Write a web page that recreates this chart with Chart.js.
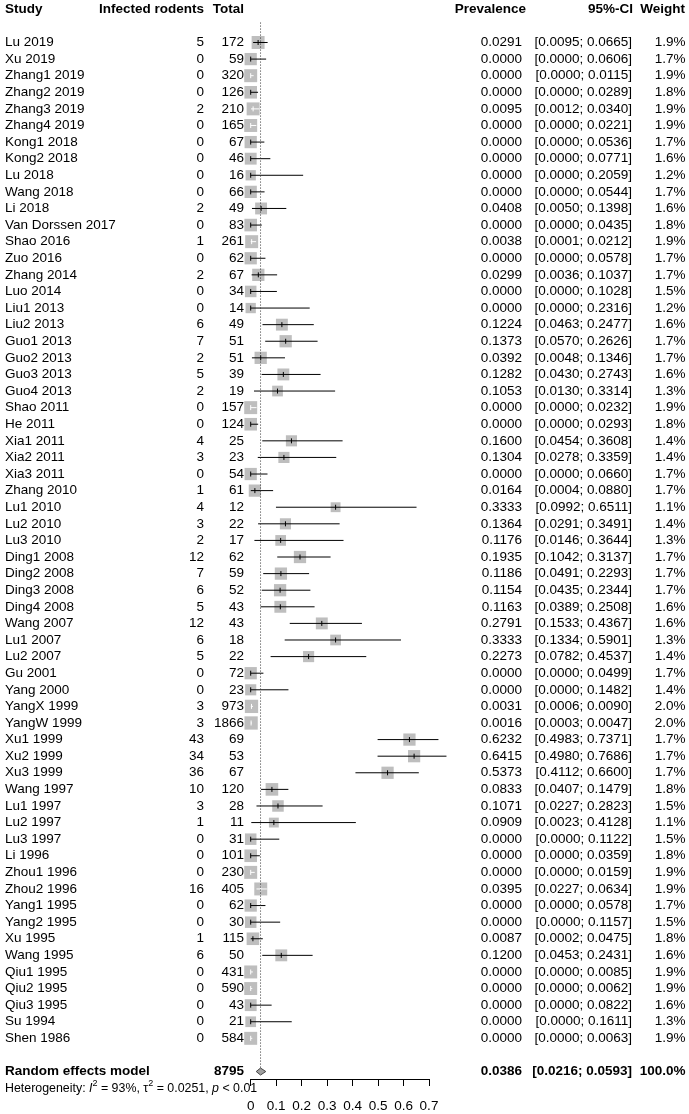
<!DOCTYPE html>
<html>
<head>
<meta charset="utf-8">
<script src="https://cdn.jsdelivr.net/npm/chart.js@4.4.1/dist/chart.umd.min.js"></script>
<style>
  html, body { margin: 0; padding: 0; background: #fff; }
  #wrap { width: 689px; height: 1114px; position: relative; }
</style>
</head>
<body>
<div id="wrap"><canvas id="forest"></canvas></div>
<script>
const studies = [
  "Lu 2019", "Xu 2019", "Zhang1 2019", "Zhang2 2019", "Zhang3 2019", "Zhang4 2019",
  "Kong1 2018", "Kong2 2018", "Lu 2018", "Wang 2018", "Li 2018", "Van Dorssen 2017",
  "Shao 2016", "Zuo 2016", "Zhang 2014", "Luo 2014", "Liu1 2013", "Liu2 2013",
  "Guo1 2013", "Guo2 2013", "Guo3 2013", "Guo4 2013", "Shao 2011", "He 2011",
  "Xia1 2011", "Xia2 2011", "Xia3 2011", "Zhang 2010", "Lu1 2010", "Lu2 2010",
  "Lu3 2010", "Ding1 2008", "Ding2 2008", "Ding3 2008", "Ding4 2008", "Wang 2007",
  "Lu1 2007", "Lu2 2007", "Gu 2001", "Yang 2000", "YangX 1999", "YangW 1999",
  "Xu1 1999", "Xu2 1999", "Xu3 1999", "Wang 1997", "Lu1 1997", "Lu2 1997",
  "Lu3 1997", "Li 1996", "Zhou1 1996", "Zhou2 1996", "Yang1 1995", "Yang2 1995",
  "Xu 1995", "Wang 1995", "Qiu1 1995", "Qiu2 1995", "Qiu3 1995", "Su 1994", "Shen 1986"
];
const infected = [
  5, 0, 0, 0, 2, 0, 0, 0, 0, 0, 2, 0, 1, 0, 2, 0, 0, 6, 7, 2, 5, 2, 0, 0, 4, 3, 0, 1,
  4, 3, 2, 12, 7, 6, 5, 12, 6, 5, 0, 0, 3, 3, 43, 34, 36, 10, 3, 1, 0, 0, 0, 16, 0, 0,
  1, 6, 0, 0, 0, 0, 0
];
const totals = [
  172, 59, 320, 126, 210, 165, 67, 46, 16, 66, 49, 83, 261, 62, 67, 34, 14, 49, 51, 51,
  39, 19, 157, 124, 25, 23, 54, 61, 12, 22, 17, 62, 59, 52, 43, 43, 18, 22, 72, 23, 973,
  1866, 69, 53, 67, 120, 28, 11, 31, 101, 230, 405, 62, 30, 115, 50, 431, 590, 43, 21, 584
];
const prevalence = [
  0.0291, 0, 0, 0, 0.0095, 0, 0, 0, 0, 0, 0.0408, 0, 0.0038, 0, 0.0299, 0, 0, 0.1224,
  0.1373, 0.0392, 0.1282, 0.1053, 0, 0, 0.16, 0.1304, 0, 0.0164, 0.3333, 0.1364, 0.1176,
  0.1935, 0.1186, 0.1154, 0.1163, 0.2791, 0.3333, 0.2273, 0, 0, 0.0031, 0.0016, 0.6232,
  0.6415, 0.5373, 0.0833, 0.1071, 0.0909, 0, 0, 0, 0.0395, 0, 0, 0.0087, 0.12, 0, 0, 0, 0, 0
];
const ciLower = [
  0.0095, 0, 0, 0, 0.0012, 0, 0, 0, 0, 0, 0.005, 0, 0.0001, 0, 0.0036, 0, 0, 0.0463,
  0.057, 0.0048, 0.043, 0.013, 0, 0, 0.0454, 0.0278, 0, 0.0004, 0.0992, 0.0291, 0.0146,
  0.1042, 0.0491, 0.0435, 0.0389, 0.1533, 0.1334, 0.0782, 0, 0, 0.0006, 0.0003, 0.4983,
  0.498, 0.4112, 0.0407, 0.0227, 0.0023, 0, 0, 0, 0.0227, 0, 0, 0.0002, 0.0453, 0, 0, 0, 0, 0
];
const ciUpper = [
  0.0665, 0.0606, 0.0115, 0.0289, 0.034, 0.0221, 0.0536, 0.0771, 0.2059, 0.0544, 0.1398,
  0.0435, 0.0212, 0.0578, 0.1037, 0.1028, 0.2316, 0.2477, 0.2626, 0.1346, 0.2743, 0.3314,
  0.0232, 0.0293, 0.3608, 0.3359, 0.066, 0.088, 0.6511, 0.3491, 0.3644, 0.3137, 0.2293,
  0.2344, 0.2508, 0.4367, 0.5901, 0.4537, 0.0499, 0.1482, 0.009, 0.0047, 0.7371, 0.7686,
  0.66, 0.1479, 0.2823, 0.4128, 0.1122, 0.0359, 0.0159, 0.0634, 0.0578, 0.1157, 0.0475,
  0.2431, 0.0085, 0.0062, 0.0822, 0.1611, 0.0063
];
const weights = [
  1.9, 1.7, 1.9, 1.8, 1.9, 1.9, 1.7, 1.6, 1.2, 1.7, 1.6, 1.8, 1.9, 1.7, 1.7, 1.5, 1.2, 1.6,
  1.7, 1.7, 1.6, 1.3, 1.9, 1.8, 1.4, 1.4, 1.7, 1.7, 1.1, 1.4, 1.3, 1.7, 1.7, 1.7, 1.6, 1.6,
  1.3, 1.4, 1.7, 1.4, 2.0, 2.0, 1.7, 1.7, 1.7, 1.8, 1.5, 1.1, 1.5, 1.8, 1.9, 1.9, 1.7, 1.5,
  1.8, 1.6, 1.9, 1.9, 1.6, 1.3, 1.9
];

// pooled estimate
const pooledLabel = "Random effects model";
const pooledTotal = 8795;
const pooledPrev = 0.0386;
const pooledLower = 0.0216;
const pooledUpper = 0.0593;
const pooledWeight = 100.0;
const hetI2 = "93%";
const hetTau2 = "0.0251";
const hetP = "0.01";

const xTicks = [0, 0.1, 0.2, 0.3, 0.4, 0.5, 0.6, 0.7];
const xTickLabels = ["0", "0.1", "0.2", "0.3", "0.4", "0.5", "0.6", "0.7"];

const FONT = '"Liberation Sans", Arial, sans-serif';
const FS = 13.5;
const pooledRow = studies.length + 1;
const hetRow = pooledRow + 1;

const boxSide = (w) => 9.4 * Math.sqrt(w);
const fmt4 = (v) => v.toFixed(4);
const ciText = (lo, hi) => `[${fmt4(lo)}; ${fmt4(hi)}]`;

// CI line turns white when it sits completely inside its box
function insideBox(chart, i) {
  const sx = chart.scales.x;
  if (!sx) return false;
  const c = sx.getPixelForValue(prevalence[i]);
  const h = boxSide(weights[i]) / 2;
  return (
    sx.getPixelForValue(ciLower[i]) >= c - h &&
    sx.getPixelForValue(ciUpper[i]) <= c + h
  );
}

const ciSets = studies.map((s, i) => ({
  data: [{ x: ciLower[i], y: i }, { x: ciUpper[i], y: i }],
  showLine: true,
  borderColor: (ctx) => (insideBox(ctx.chart, i) ? "#fff" : "#000"),
  borderWidth: 1,
  pointRadius: 0,
  clip: false,
  order: 2,
}));

const estTicks = {
  data: studies.map((s, i) => ({ x: prevalence[i], y: i })),
  pointStyle: "line",
  pointRotation: 90,
  pointRadius: 2.5,
  pointBorderWidth: 1,
  pointBorderColor: (ctx) => (insideBox(ctx.chart, ctx.dataIndex) ? "#fff" : "#000"),
  clip: false,
  order: 1,
};

const boxes = {
  data: studies.map((s, i) => ({ x: prevalence[i], y: i })),
  pointStyle: "rect",
  pointRadius: (ctx) => boxSide(weights[ctx.dataIndex]) / Math.SQRT2,
  pointBackgroundColor: "rgb(190,190,190)",
  pointBorderWidth: 0,
  clip: false,
  order: 3,
};

const refLine = {
  data: [{ x: pooledPrev, y: -1.2 }, { x: pooledPrev, y: pooledRow - 0.24 }],
  showLine: true,
  borderColor: "#333",
  borderWidth: 1,
  borderDash: [1, 2],
  pointRadius: 0,
  clip: false,
  order: 0,
};

const diamond = {
  data: [
    { x: pooledLower, y: pooledRow },
    { x: pooledPrev, y: pooledRow - 0.21 },
    { x: pooledUpper, y: pooledRow },
    { x: pooledPrev, y: pooledRow + 0.21 },
    { x: pooledLower, y: pooledRow },
  ],
  showLine: true,
  fill: "shape",
  backgroundColor: "rgb(160,160,160)",
  borderColor: "rgb(70,70,70)",
  borderWidth: 1,
  pointRadius: 0,
  clip: false,
  order: 0,
};

function drawText(ctx, text, x, y, align, bold) {
  ctx.font = `${bold ? "bold " : ""}${FS}px ${FONT}`;
  ctx.textAlign = align;
  ctx.fillText(text, x, y);
}

const tablePlugin = {
  id: "forestTable",
  afterDraw(chart) {
    const ctx = chart.ctx;
    const sy = chart.scales.y;
    ctx.save();
    ctx.fillStyle = "#000";
    ctx.textBaseline = "middle";

    const hy = sy.getPixelForValue(-2);
    drawText(ctx, "Study", 5, hy, "left", true);
    drawText(ctx, "Infected rodents", 204, hy, "right", true);
    drawText(ctx, "Total", 244, hy, "right", true);
    drawText(ctx, "Prevalence", 526, hy, "right", true);
    drawText(ctx, "95%-CI", 633, hy, "right", true);
    drawText(ctx, "Weight", 685, hy, "right", true);

    studies.forEach((s, i) => {
      const y = sy.getPixelForValue(i);
      drawText(ctx, s, 5, y, "left");
      drawText(ctx, String(infected[i]), 204, y, "right");
      drawText(ctx, String(totals[i]), 244, y, "right");
      drawText(ctx, fmt4(prevalence[i]), 522, y, "right");
      drawText(ctx, ciText(ciLower[i], ciUpper[i]), 632, y, "right");
      drawText(ctx, weights[i].toFixed(1) + "%", 685.5, y, "right");
    });

    const py = sy.getPixelForValue(pooledRow);
    drawText(ctx, pooledLabel, 5, py, "left", true);
    drawText(ctx, String(pooledTotal), 244, py, "right", true);
    drawText(ctx, fmt4(pooledPrev), 522, py, "right", true);
    drawText(ctx, ciText(pooledLower, pooledUpper), 632, py, "right", true);
    drawText(ctx, pooledWeight.toFixed(1) + "%", 685.5, py, "right", true);

    // heterogeneity line, with italics and superscripts
    const ty = sy.getPixelForValue(hetRow);
    const parts = [
      ["Heterogeneity: ", ""],
      ["I", "italic "],
      ["2", "sup"],
      [" = " + hetI2 + ", ", ""],
      ["\u03c4", ""],
      ["2", "sup"],
      [" = " + hetTau2 + ", ", ""],
      ["p", "italic "],
      [" < " + hetP, ""],
    ];
    let x = 5;
    ctx.textAlign = "left";
    parts.forEach(([t, style]) => {
      if (style === "sup") {
        ctx.font = `9px ${FONT}`;
        ctx.fillText(t, x, ty - 5);
      } else {
        ctx.font = `${style}12.4px ${FONT}`;
        ctx.fillText(t, x, ty);
      }
      x += ctx.measureText(t).width;
    });
    ctx.restore();
  },
};

new Chart(document.getElementById("forest"), {
  type: "scatter",
  data: { datasets: [refLine, diamond, estTicks, ...ciSets, boxes] },
  options: {
    responsive: true,
    maintainAspectRatio: false,
    animation: false,
    events: [],
    layout: {
      autoPadding: false,
      // the x axis reserves its tick padding twice, so pull the bottom back down
      padding: { left: 250.7, right: 260, top: 1, bottom: -12.2 },
    },
    scales: {
      x: {
        type: "linear",
        position: "bottom",
        min: 0,
        max: 0.7,
        afterBuildTicks: (scale) => {
          scale.ticks = xTicks.map((v) => ({ value: v }));
        },
        grid: {
          drawOnChartArea: false,
          drawTicks: true,
          tickLength: 7,
          color: "#000",
          lineWidth: 1,
        },
        border: { display: true, color: "#000", width: 1 },
        ticks: {
          padding: 12,
          color: "#000",
          autoSkip: false,
          maxRotation: 0,
          font: { family: FONT, size: FS },
          callback: (v, i) => xTickLabels[i],
        },
      },
      y: {
        type: "linear",
        reverse: true,
        min: -2.5,
        max: 62.45,
        display: false,
      },
    },
    plugins: {
      legend: { display: false },
      tooltip: { enabled: false },
    },
  },
  plugins: [tablePlugin],
});
</script>
</body>
</html>
